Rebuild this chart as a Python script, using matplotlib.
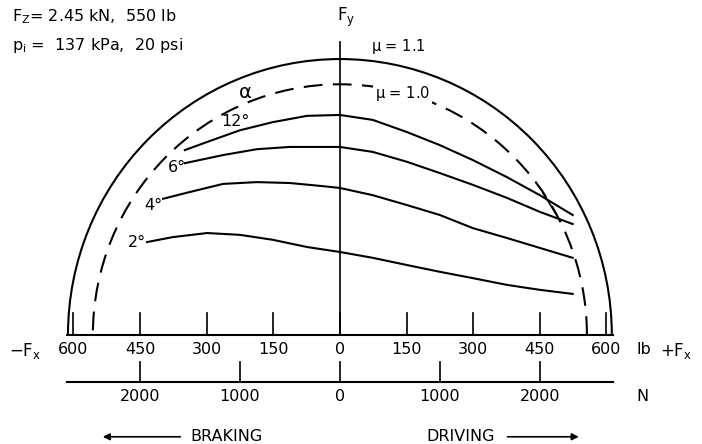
import numpy as np
import matplotlib.pyplot as plt
from matplotlib.patches import Arc

plt.rcParams['font.family'] = ['DejaVu Sans']
plt.rcParams['mathtext.default'] = 'regular'

# friction circles (lb)
mu_outer = 1.1
mu_inner = 1.0
r_outer = 612
r_inner = 556

# lateral force curves for slip angle alpha (Fx in lb, Fy in lb)
a12_x = [-349, -299, -225, -151, -74, 0, 74, 151, 225, 299, 376, 450, 524]
a12_y = [410, 428, 454, 472, 486, 488, 477, 450, 421, 388, 350, 310, 266]
a6_x = [-349, -263, -187, -113, -38, 0, 74, 151, 225, 299, 376, 450, 524]
a6_y = [381, 399, 412, 417, 417, 417, 406, 384, 359, 333, 304, 273, 246]
a4_x = [-398, -338, -263, -187, -113, -38, 0, 74, 151, 225, 299, 376, 450, 524]
a4_y = [302, 317, 335, 339, 337, 330, 326, 310, 288, 266, 237, 215, 193, 171]
a2_x = [-434, -376, -299, -225, -151, -74, 0, 74, 151, 225, 299, 376, 450, 524]
a2_y = [206, 217, 226, 222, 211, 195, 184, 171, 155, 140, 126, 111, 100, 91]

curves_x = [a12_x, a6_x, a4_x, a2_x]
curves_y = [a12_y, a6_y, a4_y, a2_y]
curve_labels = ['12°', '6°', '4°', '2°']
label_pos = [(-236, 474), (-367, 372), (-421, 288), (-457, 204)]

lb_ticks = [-600, -450, -300, -150, 0, 150, 300, 450, 600]
n_ticks = [-2000, -1000, 0, 1000, 2000]
lb_per_n = 1 / 4.448

fig = plt.figure(figsize=(7.02, 4.44), dpi=100)
ax = fig.add_axes([0, 0, 1, 1])
ax.set_xlim(-765, 815)
ax.set_ylim(-242, 743)
ax.axis('off')

k = dict(color='black', lw=1.5)

ax.add_patch(Arc((0, 0), 2 * r_outer, 2 * r_outer, theta1=0, theta2=180, **k))
ax.add_patch(Arc((0, 0), 2 * r_inner, 2 * r_inner, theta1=0, theta2=180,
                 linestyle=(0, (9, 5)), **k))

for cx, cy in zip(curves_x, curves_y):
    ax.plot(cx, cy, solid_joinstyle='round', **k)
for lab, (lx, ly) in zip(curve_labels, label_pos):
    ax.text(lx, ly, lab, fontsize=11.5, ha='center', va='center')

# small mark across the 12/6 deg curves
ax.plot([457, 488], [315, 266], color='black', lw=1.2)

ax.text(-214, 537, r'$\alpha$', fontsize=14, ha='center', va='center')
ax.text(132, 640, r'$\mu$ = 1.1', fontsize=10.5, ha='center', va='center')
ax.text(141, 535, r'$\mu$ = 1.0', fontsize=10.5, ha='center', va='center',
        bbox=dict(facecolor='white', edgecolor='none', pad=1))

# Fy axis
ax.plot([0, 0], [0, 650], color='black', lw=1.2)
ax.text(13, 705, '$F_y$', fontsize=12, ha='center', va='center')

# lb axis
ax.plot([-614, 614], [0, 0], color='black', lw=1.5)
for t in lb_ticks:
    ax.plot([t, t], [0, 49], color='black', lw=1.2)
    ax.text(t, -33, str(abs(t)), fontsize=11.5, ha='center', va='center')
ax.text(-709, -36, '$-F_x$', fontsize=12, ha='center', va='center')
ax.text(684, -33, 'lb', fontsize=11.5, ha='center', va='center')
ax.text(756, -36, '$+F_x$', fontsize=12, ha='center', va='center')

# N axis
ax.plot([-614, 614], [-104, -104], color='black', lw=1.5)
for t in n_ticks:
    ax.plot([t * lb_per_n, t * lb_per_n], [-104, -60], color='black', lw=1.2)
    ax.text(t * lb_per_n, -137, str(abs(t)), fontsize=11.5, ha='center', va='center')
ax.text(682, -137, 'N', fontsize=11.5, ha='center', va='center')

# braking / driving
ax.annotate('', xy=(-540, -226), xytext=(-353, -226),
            arrowprops=dict(arrowstyle='-|>', color='black', lw=1.2, mutation_scale=10))
ax.text(-337, -226, 'BRAKING', fontsize=11.5, ha='left', va='center')
ax.annotate('', xy=(544, -226), xytext=(371, -226),
            arrowprops=dict(arrowstyle='-|>', color='black', lw=1.2, mutation_scale=10))
ax.text(349, -226, 'DRIVING', fontsize=11.5, ha='right', va='center')

ax.text(-738, 705, '$F_Z$= 2.45 kN,  550 lb', fontsize=11.5, ha='left', va='center')
ax.text(-738, 643, '$p_i$ =  137 kPa,  20 psi', fontsize=11.5, ha='left', va='center')

plt.savefig('out.png', dpi=100)
